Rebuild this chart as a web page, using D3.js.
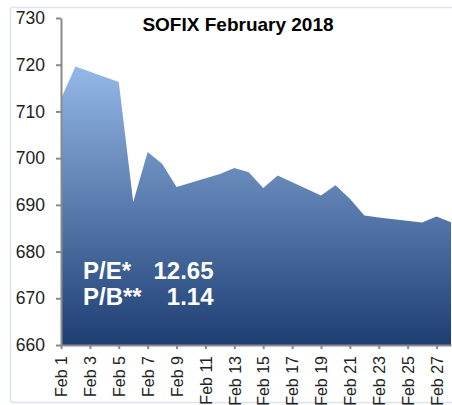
<!DOCTYPE html>
<html>
<head>
<meta charset="utf-8">
<script src="https://cdn.jsdelivr.net/npm/d3@7"></script>
<style>
  body { margin: 0; background: #fff; }
  svg { display: block; }
  .axis path, .axis line { stroke: #8a8a8a; stroke-width: 2; }
  .axis text { font-family: "Liberation Sans", Arial, sans-serif; fill: #222; }
</style>
</head>
<body>
<div id="chart"></div>
<script>
// trading days of February 2018 and SOFIX closing values
const days = [1, 2, 5, 6, 7, 8, 9, 12, 13, 14, 15, 16, 19, 20, 21, 22, 23, 26, 27, 28];
const values = [712.7, 719.6, 716.3, 690.6, 701.3, 698.8, 693.8, 696.6, 697.9, 697.0,
                693.6, 696.3, 692.0, 694.2, 691.3, 687.7, 687.3, 686.2, 687.5, 686.3];
const yTicks = [660, 670, 680, 690, 700, 710, 720, 730];
const title = "SOFIX February 2018";
const ratioLabels = ["P/E*", "P/B**"];
const ratioValues = ["12.65", "1.14"];

const W = 452, H = 405;
const margin = { top: 18, right: 1, bottom: 60, left: 61 };

const data = days.map((d, i) => ({ date: new Date(Date.UTC(2018, 1, d)), value: values[i] }));

const svg = d3.select('#chart').append('svg')
    .attr('width', W)
    .attr('height', H);

// outer frame
svg.append('rect')
    .attr('x', 10.5).attr('y', 7.5)
    .attr('width', 460).attr('height', 395)
    .attr('rx', 2)
    .attr('fill', '#fff')
    .attr('stroke', '#dbe3ee')
    .attr('stroke-width', 1.5);

const x = d3.scaleUtc()
    .domain([new Date(Date.UTC(2018, 1, 1)), new Date(Date.UTC(2018, 1, 28))])
    .range([margin.left, W - margin.right]);

const y = d3.scaleLinear()
    .domain([660, 730])
    .range([H - margin.bottom, margin.top]);

const defs = svg.append('defs');
const grad = defs.append('linearGradient')
    .attr('id', 'fillGrad')
    .attr('x1', 0).attr('y1', 0).attr('x2', 0).attr('y2', 1);
grad.append('stop').attr('offset', '0%').attr('stop-color', '#94b8e7');
grad.append('stop').attr('offset', '100%').attr('stop-color', '#1e3e73');

const area = d3.area()
    .x(d => x(d.date))
    .y0(y(660))
    .y1(d => y(d.value));

svg.append('path')
    .datum(data)
    .attr('d', area)
    .attr('fill', 'url(#fillGrad)');

// axes
const yAxis = svg.append('g')
    .attr('class', 'axis')
    .attr('transform', `translate(${margin.left},0)`)
    .call(d3.axisLeft(y).tickValues(yTicks).tickSize(5).tickPadding(11).tickSizeOuter(0));
yAxis.selectAll('text').style('font-size', '17.5px');

const xAxis = svg.append('g')
    .attr('class', 'axis')
    .attr('transform', `translate(0,${y(660)})`)
    .call(d3.axisBottom(x)
        .ticks(d3.utcDay.every(2))
        .tickFormat(d3.utcFormat('Feb %-d'))
        .tickSize(4)
        .tickSizeOuter(0));
xAxis.selectAll('text')
    .style('font-size', '16px')
    .attr('text-anchor', 'end')
    .attr('transform', 'rotate(-90)')
    .attr('x', -11)
    .attr('y', 0)
    .attr('dy', '0.36em');

// title
svg.append('text')
    .attr('x', 238).attr('y', 30.5)
    .attr('text-anchor', 'middle')
    .style('font-family', '"Liberation Sans", Arial, sans-serif')
    .style('font-weight', 'bold')
    .style('font-size', '19px')
    .attr('fill', '#000')
    .text(title);

// ratio annotations
const notes = svg.append('g')
    .style('font-family', '"Liberation Sans", Arial, sans-serif')
    .style('font-weight', 'bold')
    .style('font-size', '24px')
    .attr('fill', '#fff');
ratioLabels.forEach((lab, i) => {
    notes.append('text').attr('x', 83).attr('y', 278.5 + i * 26.7).text(lab);
    notes.append('text').attr('x', 213.5).attr('y', 278.5 + i * 26.7)
        .attr('text-anchor', 'end').text(ratioValues[i]);
});
</script>
</body>
</html>
